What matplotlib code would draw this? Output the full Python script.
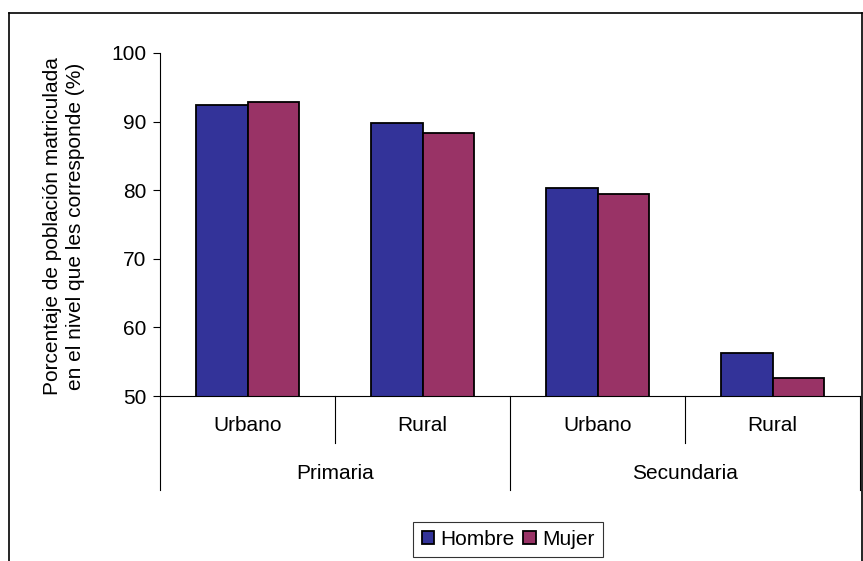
import matplotlib
matplotlib.use("Agg")
import matplotlib.pyplot as plt
from matplotlib.lines import Line2D
import numpy as np

plt.rcParams['font.family'] = ['Liberation Sans', 'DejaVu Sans']

niveles = ['Primaria', 'Secundaria']
zonas = ['Urbano', 'Rural', 'Urbano', 'Rural']
hombre = [92.4, 89.8, 80.3, 56.2]
mujer = [92.8, 88.3, 79.4, 52.6]
series = ['Hombre', 'Mujer']
colores = ['#333399', '#993366']

fig = plt.figure(figsize=(8.63, 5.61), dpi=100)
ax = fig.add_axes([160/863, 1 - 396/561, 700/863, 343/561])

x = np.arange(len(zonas)) + 0.5
w = 0.295
ax.bar(x - w/2, hombre, w, color=colores[0], edgecolor='black', linewidth=1.3, label=series[0])
ax.bar(x + w/2, mujer, w, color=colores[1], edgecolor='black', linewidth=1.3, label=series[1])

ax.set_xlim(0, 4)
ax.set_ylim(50, 100)
ax.set_yticks(range(50, 101, 10))
ax.tick_params(axis='y', direction='out', length=5, pad=5, labelsize=15, width=0.8)
ax.set_xticks([])
ax.spines['top'].set_visible(False)
ax.spines['right'].set_visible(False)
ax.spines['left'].set_linewidth(0.8)
ax.spines['bottom'].set_linewidth(0.8)

fig.text(64/863, 1 - 226/561,
         'Porcentaje de población matriculada\nen el nivel que les corresponde (%)',
         rotation=90, ha='center', va='center', fontsize=15, linespacing=1.3)

# category axis with two levels
tr = ax.get_xaxis_transform()
for i, z in enumerate(zonas):
    ax.text(i + 0.5, -0.087, z, transform=tr, ha='center', va='center', fontsize=15)
for b in [1, 3]:
    ax.plot([b, b], [0, -0.137], transform=tr, color='black', lw=0.8, clip_on=False)
for b in [0, 2, 4]:
    ax.plot([b, b], [0, -0.274], transform=tr, color='black', lw=0.8, clip_on=False)
for j, n in enumerate(niveles):
    ax.text(2*j + 1, -0.227, n, transform=tr, ha='center', va='center', fontsize=15)

leg = fig.legend(loc='center', bbox_to_anchor=(508/863, 1 - 539.5/561), ncol=2,
                 fontsize=15, frameon=True, fancybox=False, handlelength=0.6,
                 handleheight=0.6, handletextpad=0.3, columnspacing=0.4,
                 borderpad=0.4, borderaxespad=0)
leg.get_frame().set_edgecolor('black')
leg.get_frame().set_linewidth(0.8)

# chart area border
xl, xr, yt = 8.5/863, 862/863, 1 - 13/561
for xs, ys in [([xl, xl], [0, yt]), ([xl, xr], [yt, yt]), ([xr, xr], [0, yt])]:
    fig.add_artist(Line2D(xs, ys, transform=fig.transFigure, color='black', lw=1.2))

fig.savefig('out.png', dpi=100)
